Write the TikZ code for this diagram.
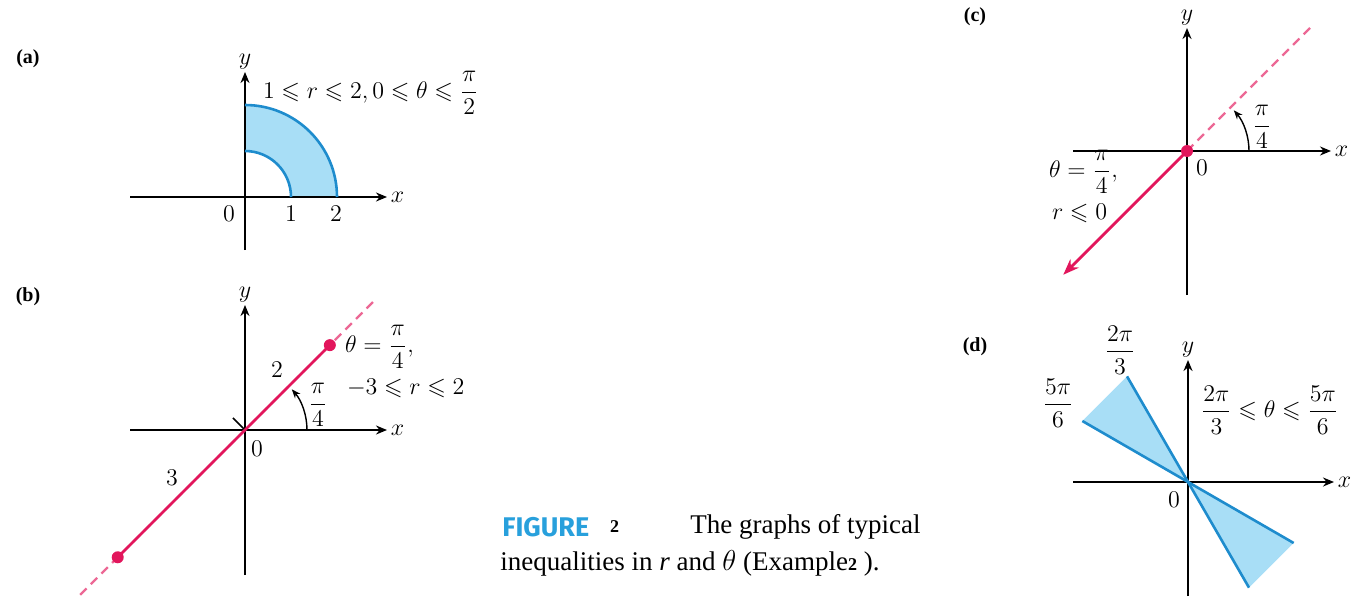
\documentclass[tikz,border=0pt]{standalone}
\usepackage{amsmath,amssymb}
\usepackage{fontspec}
\setmainfont{Liberation Serif}
\newfontfamily\capfont{Fira Sans}
\usetikzlibrary{arrows.meta,calc,positioning}
\definecolor{polarpink}{RGB}{226,22,92}
\definecolor{polarblue}{RGB}{30,140,205}
\definecolor{polarfill}{RGB}{168,222,246}
\definecolor{capblue}{RGB}{40,160,220}
\tikzset{
    myaxis/.style={line width=0.9pt,draw=black,-{Stealth[length=5.5pt,width=4.5pt]}},
    myray/.style={line width=1.4pt,draw=polarpink},
    mydash/.style={line width=1.1pt,draw=polarpink!65,dash pattern=on 4.5pt off 3pt},
    myarc/.style={line width=1.3pt,draw=polarblue},
    myangle/.style={line width=0.7pt,draw=black,-{Stealth[length=4.5pt,width=3.5pt]}},
    mydot/.style={circle,fill=polarpink,inner sep=0pt,minimum size=6pt},
    mypanel/.style={font=\fontsize{10}{12}\selectfont\bfseries},
    mycap/.style={font=\fontsize{13.5}{16}\selectfont,inner sep=0pt},
    every node/.style={font=\fontsize{12}{14}\selectfont}
}
\begin{document}
\begin{tikzpicture}[x=0.5pt,y=0.5pt]
  \useasboundingbox (0,0) rectangle (1353,596);
  % origins and axis ends of the four panels
  \foreach \p/\ox/\oy/\xl/\xr/\yb/\yt in {a/245/399/130/387/346/524,b/245/166/130/387/21/291,
      c/1187/445/1073/1331/301/568,d/1188/114/1073/1334/0/236}{
    \coordinate (O\p) at (\ox,\oy);
    \coordinate (L\p) at (\xl,\oy);
    \coordinate (R\p) at (\xr,\oy);
    \coordinate (B\p) at (\ox,\yb);
    \coordinate (T\p) at (\ox,\yt);
  }
  % (a) annulus quarter
  \fill[polarfill] ($(Oa)+(92,0)$) arc (0:90:92) -- ($(Oa)+(0,46)$) arc (90:0:46) -- cycle;
  % (d) wedges
  \fill[polarfill] (Od) -- ($(Od)+(120:122)$) -- ($(Od)+(150:122)$) -- cycle;
  \fill[polarfill] (Od) -- ($(Od)+(-60:122)$) -- ($(Od)+(-30:122)$) -- cycle;
  \foreach \p in {a,b,c,d}{
    \draw[myaxis] (L\p) -- (R\p) node[right=0pt,inner sep=1.5pt] {$x$};
    \draw[myaxis] (B\p) -- (T\p) node[above=0pt,inner sep=1pt] {$y$};
  }
  \node[mypanel] at (28,537) {(a)};
  \node[mypanel] at (28,299) {(b)};
  \node[mypanel] at (975,579) {(c)};
  \node[mypanel] at (975,249) {(d)};

  % (a)
  \draw[myarc] ($(Oa)+(92,0)$) arc (0:90:92);
  \draw[myarc] ($(Oa)+(46,0)$) arc (0:90:46);
  \node at (229,382) {$0$};
  \node at (291,382) {$1$};
  \node at (336,382) {$2$};
  \node[anchor=west] at (256,503) {$1\leqslant r\leqslant 2, 0\leqslant\theta\leqslant\dfrac{\pi}{2}$};

  % (b)
  \coordinate (bp) at ($(Ob)+(45:120)$);
  \coordinate (bm) at ($(Ob)+(225:180)$);
  \draw[mydash] ($(Ob)+(225:233)$) -- ($(Ob)+(45:182)$);
  \draw[line width=0.8pt] (Ob) -- ++(135:17);
  \draw[myray] (bm) -- (bp);
  \node[mydot] at (bp) {};
  \node[mydot] at (bm) {};
  \draw[myangle] ($(Ob)+(62,0)$) arc (0:41:62);
  \node at (277,226) {$2$};
  \node at (172,118) {$3$};
  \node at (257,147) {$0$};
  \node at (318,191) {$\dfrac{\pi}{4}$};
  \node[anchor=west] at (338,249) {$\theta=\dfrac{\pi}{4},$};
  \node[anchor=west] at (340,208) {$-3\leqslant r\leqslant 2$};

  % (c)
  \draw[mydash] (Oc) -- ($(Oc)+(45:178)$);
  \draw[myray,-{Stealth[length=8pt,width=6pt]}] (Oc) -- ($(Oc)+(225:175)$);
  \node[mydot] at (Oc) {};
  \draw[myangle] ($(Oc)+(62,0)$) arc (0:41:62);
  \node at (1262,469) {$\dfrac{\pi}{4}$};
  \node at (1202,428) {$0$};
  \node (cthe) [anchor=west] at (1042,424) {$\theta=\dfrac{\pi}{4},$};
  \node (crr) [anchor=west] at (1045,383) {$r\leqslant 0$};

  % (d)
  \draw[myarc] ($(Od)+(150:122)$) -- ($(Od)+(-30:122)$);
  \draw[myarc] ($(Od)+(120:122)$) -- ($(Od)+(-60:122)$);
  \node at (1120,246) {$\dfrac{2\pi}{3}$};
  \node at (1058,193) {$\dfrac{5\pi}{6}$};
  \node[anchor=west] at (1194,186) {$\dfrac{2\pi}{3}\leqslant\theta\leqslant\dfrac{5\pi}{6}$};
  \node at (1174,96) {$0$};

  % caption
  \node (fig) [mycap,anchor=west] at (502,69) {\capfont\bfseries\textcolor{capblue}{FIGURE}};
  \node (fnum) [mycap,right=10pt of fig] {\fontsize{9}{10}\selectfont\bfseries 2};
  \node (cap1) [mycap,anchor=west] at (690,69) {The graphs of typical};
  \node (cap2) [mycap,anchor=west] at (500,33) {inequalities in \textit{r} and $\theta$ (Example{\fontsize{9}{10}\selectfont\bfseries 2} ).};
\end{tikzpicture}
\end{document}
